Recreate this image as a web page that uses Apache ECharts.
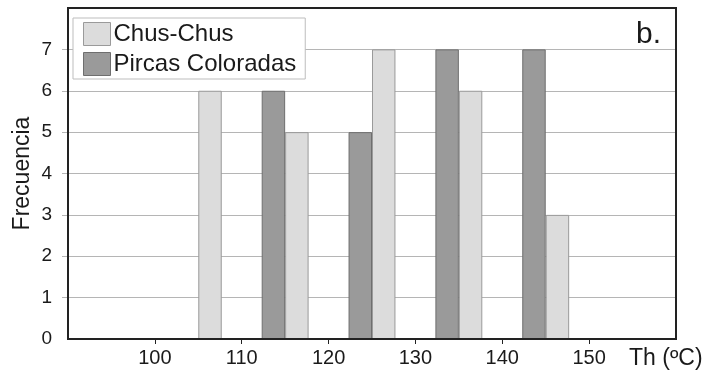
<!DOCTYPE html>
<html>
<head>
<meta charset="utf-8">
<script src="https://cdn.jsdelivr.net/npm/echarts@6/dist/echarts.min.js"></script>
<style>html,body{margin:0;padding:0;background:#fff;}#c{width:709px;height:376px;}</style>
</head>
<body>
<div id="c"></div>
<script>
// Bin centres (ºC) on the hidden category axis
const bins = ['95', '105', '115', '125', '135', '145', '155'];
// Frequencies per bin
const chusChus = [0, 6, 5, 7, 6, 3, 0];
const pircasColoradas = [0, 0, 6, 5, 7, 7, 0];
// Axis ticks
const xTicks = [100, 110, 120, 130, 140, 150];
const yTicks = [0, 1, 2, 3, 4, 5, 6, 7];
const seriesNames = ['Chus-Chus', 'Pircas Coloradas'];

const chart = echarts.init(document.getElementById('c'), null, {renderer: 'canvas'});
const font = 'Liberation Sans, Arial, sans-serif';
const lightStyle = {color: '#dcdcdc', borderColor: '#9a9a9a', borderWidth: 1};
const darkStyle = {color: '#9a9a9a', borderColor: '#6e6e6e', borderWidth: 1};

chart.setOption({
  animation: false,
  backgroundColor: '#fff',
  textStyle: {fontFamily: font},
  grid: {left: 68, top: 8, right: 33, bottom: 37, show: true, borderColor: '#222', borderWidth: 2, backgroundColor: 'transparent', z: 5},
  legend: {
    left: 73, top: 18, orient: 'vertical',
    itemWidth: 27, itemHeight: 23, itemGap: 6,
    padding: [4, 9, 3, 10],
    borderColor: '#bdbdbd', borderWidth: 1, backgroundColor: '#fff',
    textStyle: {fontSize: 24, color: '#1a1a1a', fontFamily: font, padding: [0, 0, 0, -2]},
    data: [
      {name: seriesNames[0], icon: 'rect', itemStyle: lightStyle},
      {name: seriesNames[1], icon: 'rect', itemStyle: darkStyle}
    ]
  },
  xAxis: [
    {
      type: 'value', min: 90, max: 160, interval: 10,
      axisLine: {show: false},
      splitLine: {show: false},
      axisTick: {show: true, length: 5, lineStyle: {color: '#222', width: 1}, customValues: xTicks},
      axisLabel: {show: true, fontSize: 20, color: '#1a1a1a', margin: 9, fontFamily: font, customValues: xTicks}
    },
    {
      type: 'category', data: bins, show: false, boundaryGap: true
    }
  ],
  yAxis: {
    type: 'value', min: 0, max: 8, interval: 1,
    name: 'Frecuencia', nameLocation: 'middle', nameGap: 34, nameMoveOverlap: false,
    nameTextStyle: {fontSize: 23, color: '#1a1a1a', fontFamily: font},
    axisLine: {show: false},
    axisTick: {show: true, length: 6, lineStyle: {color: '#b5b5b5'}, customValues: [1, 2, 3, 4, 5, 6, 7]},
    axisLabel: {fontSize: 19, color: '#1a1a1a', margin: 16, fontFamily: font, customValues: yTicks},
    splitLine: {show: true, lineStyle: {color: '#b5b5b5', width: 1}}
  },
  graphic: [
    {type: 'text', left: 636, top: 20, style: {text: 'b.', font: '30px ' + font, fill: '#1a1a1a'}},
    {type: 'text', left: 629, top: 347, style: {text: 'Th (ºC)', font: '23px ' + font, fill: '#1a1a1a'}}
  ],
  series: [
    {name: seriesNames[1], type: 'bar', xAxisIndex: 1, data: pircasColoradas, barWidth: '27%', barGap: '0%', itemStyle: darkStyle},
    {name: seriesNames[0], type: 'bar', xAxisIndex: 1, data: chusChus, barWidth: '27%', barGap: '0%', itemStyle: lightStyle}
  ]
});
</script>
</body>
</html>
